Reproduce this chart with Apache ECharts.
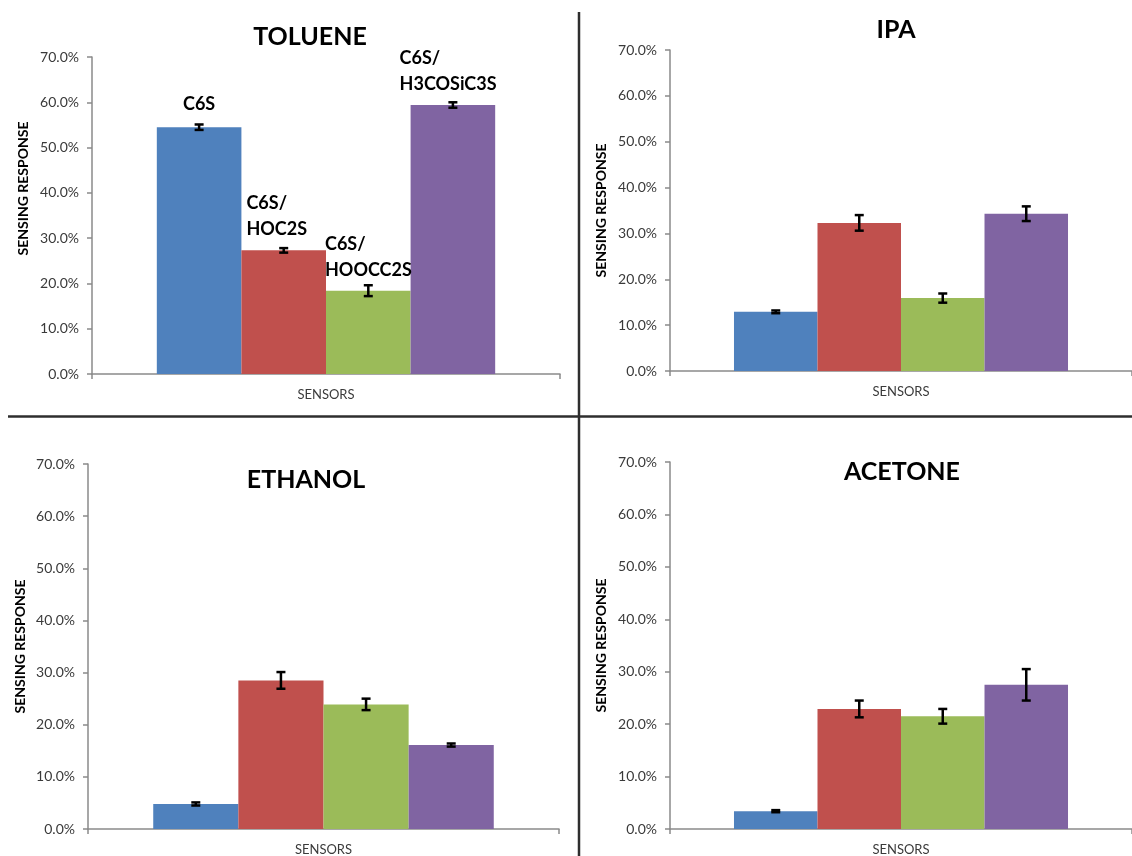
<!DOCTYPE html>
<html>
<head>
<meta charset="utf-8">
<script src="https://cdn.jsdelivr.net/npm/echarts@6/dist/echarts.min.js"></script>
<style>
html,body{margin:0;padding:0;background:#fff;}
#chart{width:1132px;height:856px;}
</style>
</head>
<body>
<div id="chart"></div>
<script>
// ---- data ----
const sensors = ['C6S', 'C6S/HOC2S', 'C6S/HOOCC2S', 'C6S/H3COSiC3S'];
const analytes = ['TOLUENE', 'IPA', 'ETHANOL', 'ACETONE'];
const xCategory = ['SENSORS'];
const yTicks = [0, 10, 20, 30, 40, 50, 60, 70];

const toluene = [54.5, 27.3, 18.4, 59.4];
const tolueneErr = [0.6, 0.5, 1.2, 0.6];
const ipa = [12.9, 32.3, 15.9, 34.3];
const ipaErr = [0.3, 1.7, 1.0, 1.6];
const ethanol = [4.8, 28.5, 23.9, 16.1];
const ethanolErr = [0.3, 1.6, 1.1, 0.3];
const acetone = [3.4, 22.9, 21.5, 27.5];
const acetoneErr = [0.2, 1.6, 1.4, 3.0];

const colors = ['#4F81BD', '#C0504D', '#9BBB59', '#8064A2'];
const GAP = 0.277;

const panels = [
  {values: toluene, err: tolueneErr, grid: {left: 92, top: 57, width: 468, height: 317}, title: [305, 19], nameGap: 62, namePad: [0,0,0,54], labels: true},
  {values: ipa, err: ipaErr, grid: {left: 670, top: 50, width: 473, height: 321}, title: [891, 12], nameGap: 62, namePad: 0},
  {values: ethanol, err: ethanolErr, grid: {left: 88, top: 464, width: 471, height: 365}, title: [301, 462], nameGap: 61, namePad: 0},
  {values: acetone, err: acetoneErr, grid: {left: 670, top: 462, width: 463, height: 368}, title: [897, 454], nameGap: 62, namePad: 0}
];

// label text for the TOLUENE panel
const tolLabelText = ['C6S', 'C6S/\nHOC2S', 'C6S/\nHOOCC2S', 'C6S/\nH3COSiC3S'];

const fontFam = 'Lato, "Open Sans", sans-serif';

const option = {
  animation: false,
  backgroundColor: '#fff',
  title: [], grid: [], xAxis: [], yAxis: [], series: [],
  graphic: [
    {type: 'line', shape: {x1: 579, y1: 12, x2: 579, y2: 856}, style: {stroke: '#2e2e2e', lineWidth: 2.5}, z: 100},
    {type: 'line', shape: {x1: 8, y1: 416.5, x2: 1132, y2: 416.5}, style: {stroke: '#2e2e2e', lineWidth: 2.5}, z: 100}
  ]
};

function errRender(params, api) {
  const k = api.value(3);
  const lo = api.coord([api.value(0), api.value(1)]);
  const hi = api.coord([api.value(0), api.value(2)]);
  const band = api.size([1, 0])[0];
  const bw = band * (1 - GAP) / 4;
  const x = lo[0] + (k - 1.5) * bw;
  const cap = 4.5;
  const st = {stroke: '#000', lineWidth: 2.5};
  return {type: 'group', children: [
    {type: 'line', shape: {x1: x, y1: lo[1], x2: x, y2: hi[1]}, style: st},
    {type: 'line', shape: {x1: x - cap, y1: hi[1], x2: x + cap, y2: hi[1]}, style: st},
    {type: 'line', shape: {x1: x - cap, y1: lo[1], x2: x + cap, y2: lo[1]}, style: st}
  ]};
}

panels.forEach((p, gi) => {
  option.title.push({
    text: analytes[gi], left: p.title[0], top: p.title[1], textAlign: 'center',
    textStyle: {fontFamily: fontFam, fontWeight: 'bold', fontSize: 25, color: '#000'}
  });
  option.grid.push(Object.assign({containLabel: false}, p.grid));
  option.xAxis.push({
    type: 'category', gridIndex: gi, data: xCategory,
    axisLine: {show: true, lineStyle: {color: '#8a8a8a', width: 1.5}},
    axisTick: {show: true, length: 5, lineStyle: {color: '#8a8a8a', width: 1.5}},
    axisLabel: {margin: 14, fontFamily: fontFam, fontSize: 13, color: '#3a3a3a'},
    splitLine: {show: false}
  });
  option.yAxis.push({
    type: 'value', gridIndex: gi, min: 0, max: 70, interval: 10,
    name: 'SENSING RESPONSE', nameLocation: 'middle', nameGap: p.nameGap, nameRotate: 90,
    nameTextStyle: {fontFamily: fontFam, fontWeight: 'bold', fontSize: 14, color: '#000', padding: p.namePad},
    axisLine: {show: true, lineStyle: {color: '#8a8a8a', width: 1.5}},
    axisTick: {show: true, length: 5, lineStyle: {color: '#8a8a8a', width: 1.5}},
    axisLabel: {margin: 13, fontFamily: fontFam, fontSize: 14, color: '#3a3a3a',
      formatter: v => yTicks.indexOf(v) >= 0 ? v.toFixed(1) + '%' : ''},
    splitLine: {show: false}
  });
  p.values.forEach((v, k) => {
    const s = {
      type: 'bar', name: sensors[k], xAxisIndex: gi, yAxisIndex: gi,
      data: [v], barGap: '0%', barCategoryGap: (GAP * 100) + '%',
      itemStyle: {color: colors[k]}
    };
    if (p.labels) {
      const base = {show: true, fontFamily: fontFam, fontWeight: 'bold', fontSize: 18, color: '#000', lineHeight: 26,
        formatter: () => tolLabelText[k]};
      if (k === 0) Object.assign(base, {position: 'top', distance: 10});
      else if (k === 1) Object.assign(base, {position: [5, -34], align: 'left', verticalAlign: 'middle'});
      else if (k === 2) Object.assign(base, {position: [-1, -33], align: 'left', verticalAlign: 'middle'});
      else Object.assign(base, {position: [-11, -34], align: 'left', verticalAlign: 'middle'});
      s.label = base;
    }
    option.series.push(s);
  });
  option.series.push({
    type: 'custom', xAxisIndex: gi, yAxisIndex: gi, z: 10,
    renderItem: errRender,
    encode: {x: 0, y: [1, 2]},
    data: p.values.map((v, k) => [0, v - p.err[k], v + p.err[k], k])
  });
});

const chart = echarts.init(document.getElementById('chart'), null, {renderer: 'canvas'});
chart.setOption(option);
</script>
</body>
</html>
